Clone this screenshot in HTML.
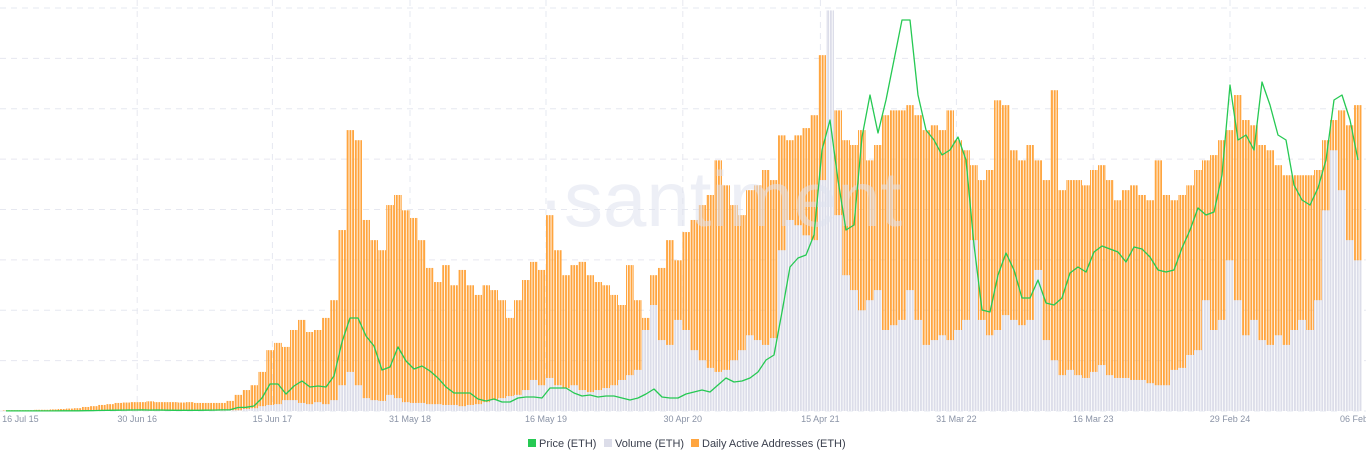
<!DOCTYPE html>
<html><head><meta charset="utf-8"><style>
html,body{margin:0;padding:0;background:#fff;}
body{width:1366px;height:462px;overflow:hidden;font-family:"Liberation Sans",sans-serif;}
svg{display:block}
</style></head><body>
<svg id="chart" width="1366" height="462" xmlns="http://www.w3.org/2000/svg">
<defs>
<pattern id="po" patternUnits="userSpaceOnUse" width="2.73" height="10"><rect x="0" y="0" width="1.9" height="10" fill="#ffa53f"/></pattern>
<pattern id="pg" patternUnits="userSpaceOnUse" width="2.73" height="10"><rect x="0" y="0" width="2.73" height="10" fill="#fff"/><rect x="0" y="0" width="1.9" height="10" fill="#dcdde9"/></pattern>
</defs>
<g id="grid"></g>
<g id="bars"></g>
<text x="538" y="226" font-size="78" fill="#dfe2ee" fill-opacity="0.55" font-family="Liberation Sans, sans-serif">·santiment</text>
<g id="line"></g>
<g id="xaxis"></g>
<g font-size="11" fill="#3a3f4d">
 <g><rect x="528" y="439" width="8" height="8" fill="#26c953"/><text x="539" y="447">Price (ETH)</text></g>
 <g><rect x="604" y="439" width="8" height="8" fill="#dcdde9"/><text x="615" y="447">Volume (ETH)</text></g>
 <g><rect x="691" y="439" width="8" height="8" fill="#ffa53f"/><text x="702" y="447">Daily Active Addresses (ETH)</text></g>
</g>
</svg>
<script>
const daa=[2,2,2,2,3,3,4,5,6,7,10,12,15,17,20,21,22,22,24,22,22,22,21,22,20,20,20,20,
25,40,52,64,97,151,169,159,201,226,196,201,231,275,449,697,672,474,424,399,511,536,498,479,424,355,320,362,312,350,312,288,312,300,275,231,275,325,370,350,486,399,337,362,370,337,320,312,288,263,362,275,231,337,355,424,374,444,474,511,536,622,560,511,486,548,560,598,573,684,672,684,702,734,883,920,746,672,660,697,622,660,734,746,746,759,734,697,709,697,746,672,647,610,573,598,771,759,647,622,660,622,573,796,548,573,573,560,598,610,573,523,548,560,536,523,622,536,523,536,560,598,622,635,672,697,784,722,709,660,647,610,585,585,585,585,598,672,722,746,709,759];
const volume=[1,1,1,1,1,1,1,1,1,1,1,1,1,1,1,1,1,1,1,1,1,1,1,1,1,1,1,1,
2,2,5,7,12,15,17,27,27,20,17,22,17,27,64,97,64,32,27,25,40,32,22,20,20,17,17,15,15,12,15,17,22,27,32,37,40,52,77,64,82,64,57,64,52,47,52,57,64,77,89,102,201,263,176,164,226,201,151,126,107,97,102,126,151,188,176,164,181,399,474,461,436,424,573,994,486,337,300,250,275,300,201,213,226,300,226,164,176,188,176,201,226,424,226,188,201,238,226,213,226,350,176,126,89,102,89,82,97,114,89,82,82,77,77,69,64,64,102,107,139,151,275,201,226,374,275,188,226,176,164,188,164,201,226,201,275,498,647,548,424,374];
const price=[1,1,1,1,1,1,1,2,2,3,4,5,7,8,10,11,12,13,11,12,10,9,8,8,9,10,11,13,
15,42,44,60,156,324,324,204,300,360,288,300,288,420,828,1116,1116,900,780,492,528,768,600,504,540,480,396,288,216,216,216,144,120,144,108,108,156,168,168,156,276,276,276,216,180,192,168,180,180,156,132,156,204,264,168,156,156,204,228,252,228,312,396,348,360,396,468,612,672,1188,1728,1836,1872,2112,3132,3492,2772,2172,2232,3288,3792,3336,3732,4212,4692,4692,3792,3372,3252,3072,3132,3288,3012,1992,1212,1188,1632,1896,1692,1356,1356,1572,1296,1272,1356,1656,1728,1668,1908,1980,1944,1908,1788,1968,1944,1848,1692,1668,1692,1956,2172,2436,2352,2388,2832,3912,3252,3312,3132,3948,3672,3312,3252,2712,2532,2472,2676,3012,3732,3792,3492,3012];
const tickLabels=["16 Jul 15","30 Jun 16","15 Jun 17","31 May 18","16 May 19","30 Apr 20","15 Apr 21","31 Mar 22","16 Mar 23","29 Feb 24","06 Feb"];
const tickIndex=[1.8,16.4,33.3,50.5,67.5,84.6,101.8,118.8,135.9,153,168.5];
const gridValues=[0,125,250,375,500,625,750,875,1000];

const NS="http://www.w3.org/2000/svg";
const X0=6,STEP=8,BASE=411,TOP=8,VMAX=1000,PMAX=4836;
const xs=i=>X0+i*STEP;
const yv=v=>BASE-v/VMAX*(BASE-TOP);
const yp=p=>BASE-p/PMAX*(BASE-TOP);
function mk(tag,attrs,parent){const e=document.createElementNS(NS,tag);for(const k in attrs)e.setAttribute(k,attrs[k]);parent.appendChild(e);return e;}
const grid=document.getElementById('grid');
gridValues.forEach(v=>{const l=mk('line',{x1:0,x2:1366,y1:yv(v),y2:yv(v),stroke:'#e6e8f0','stroke-width':1,'stroke-dasharray':'6,5'},grid);

});
tickIndex.slice(1,10).forEach(t=>{const l=mk('line',{x1:xs(t),x2:xs(t),y1:0,y2:BASE,stroke:'#e6e8f0','stroke-width':1,'stroke-dasharray':'6,5'},grid);

});
const bars=document.getElementById('bars');
daa.forEach((v,i)=>{const y=yv(v);const r=mk('rect',{x:xs(i)-4,y:y,width:8,height:BASE-y,fill:'url(#po)'},bars);

});
volume.forEach((v,i)=>{const y=yv(v);const r=mk('rect',{x:xs(i)-4,y:y,width:8,height:BASE-y,fill:'url(#pg)'},bars);

});
const lg=document.getElementById('line');
const d=price.map((p,i)=>(i?'L':'M')+xs(i).toFixed(1)+','+yp(p).toFixed(1)).join(' ');
const path=mk('path',{d:d,fill:'none',stroke:'#26c953','stroke-width':1.3,'stroke-linejoin':'round'},lg);


const xa=document.getElementById('xaxis');
tickLabels.forEach((t,k)=>{const tx=mk('text',{x:xs(tickIndex[k]),y:422,'font-size':9,fill:'#8a93a6','text-anchor':'middle'},xa);tx.textContent=t;

});
</script>
</body></html>
